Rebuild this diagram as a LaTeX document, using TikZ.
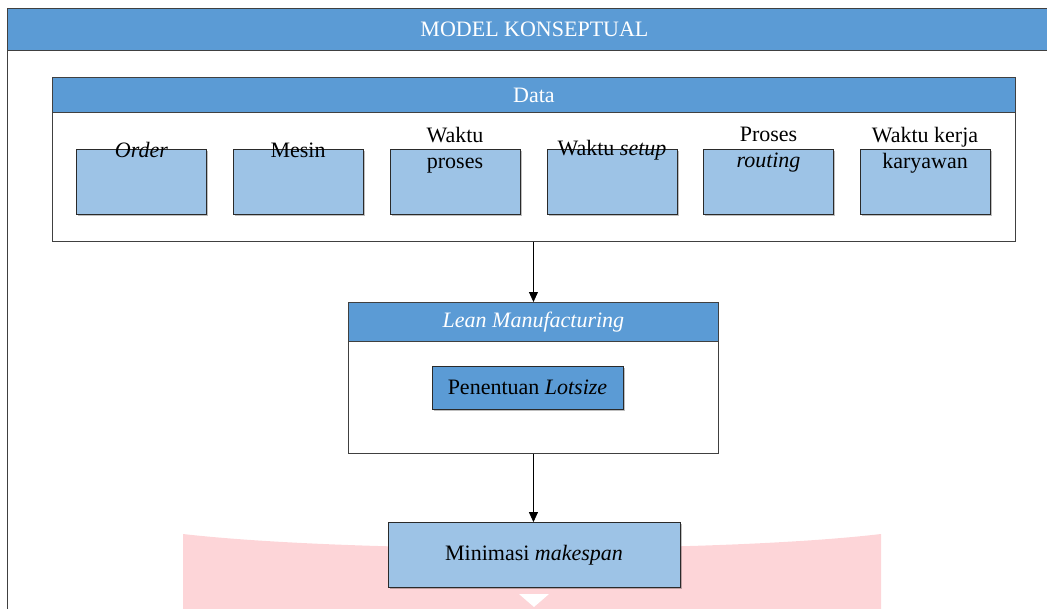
\documentclass[tikz,border=0pt]{standalone}
\usepackage{fontspec}
\setmainfont{Liberation Serif}
\usetikzlibrary{shadows,arrows.meta}
\definecolor{hdrblue}{HTML}{5B9BD5}
\definecolor{itemblue}{HTML}{9DC3E6}
\definecolor{bordc}{HTML}{404040}
\definecolor{itembord}{HTML}{2A2A2A}
\definecolor{wmpink}{HTML}{FDD5D8}
\tikzset{
  txt/.style={font=\fontsize{22}{26}\selectfont},
  hdr/.style={txt, draw=bordc, line width=0.9pt, fill=hdrblue, text=white, inner sep=0pt, anchor=north west},
  bodybox/.style={draw=bordc, line width=0.9pt, fill=white, inner sep=0pt, anchor=north west},
  itembox/.style={draw=itembord, line width=0.8pt, fill=itemblue, inner sep=0pt,
    minimum width=130pt, minimum height=65pt,
    drop shadow={shadow xshift=1.5pt, shadow yshift=-1.5pt, opacity=0.25, fill=black}},
  lbl/.style={txt, align=center, inner sep=0pt},
  arr/.style={draw=black, line width=0.8pt, -{Triangle[length=10pt,width=9pt]}}
}
\begin{document}
\begin{tikzpicture}[x=1pt,y=-1pt]
\useasboundingbox (0,0) rectangle (1047,608);
\clip (0,0) rectangle (1047,608);
% outer frame
\node[draw=bordc, line width=0.9pt, anchor=north west, minimum width=1054pt, minimum height=640pt, inner sep=0pt] (frame) at (7,8) {};
% watermark
\fill[wmpink] (183,534) .. controls (350,553) and (720,553) .. (881,534) -- (881,620) -- (183,620) -- cycle;
\fill[white] (519,594) -- (549,594) -- (534,607) -- cycle;
% title
\node[hdr, minimum width=1054pt, minimum height=42pt] (title) at (7,8) {MODEL KONSEPTUAL};
% data block
\node[bodybox, minimum width=963pt, minimum height=164pt] (data) at (52,77) {};
\node[hdr, minimum width=963pt, minimum height=35pt] (datah) at (52,77) {Data};
\node[itembox] (i1) at (141.5,181.5) {};
\node[itembox] (i2) at (298,181.5) {};
\node[itembox] (i3) at (455,181.5) {};
\node[itembox] (i4) at (612,181.5) {};
\node[itembox] (i5) at (768.5,181.5) {};
\node[itembox] (i6) at (925,181.5) {};
\node[lbl] (l1) at (141.5,150) {\textit{Order}};
\node[lbl] (l2) at (298,150) {Mesin};
\node[lbl] (l3) at (455,150) {Waktu\\proses};
\node[lbl] (l4) at (612,150) {Waktu \textit{setup}};
\node[lbl] (l5) at (768.5,150) {Proses\\\textit{routing}};
\node[lbl] (l6) at (925,150) {Waktu kerja\\karyawan};
% lean block
\node[bodybox, minimum width=370pt, minimum height=151pt] (lean) at (348,302) {};
\node[hdr, minimum width=370pt, minimum height=39pt] (leanh) at (348,302) {\textit{Lean Manufacturing}};
\node[txt, draw=itembord, line width=0.8pt, fill=hdrblue, inner sep=0pt, minimum width=191pt, minimum height=43pt,
  drop shadow={shadow xshift=1.5pt, shadow yshift=-1.5pt, opacity=0.25, fill=black}] (lot) at (527.5,387.5) {Penentuan \textit{Lotsize}};
% result
\node[txt, draw=itembord, line width=0.8pt, fill=itemblue, inner sep=0pt, minimum width=292pt, minimum height=65pt,
  drop shadow={shadow xshift=1.5pt, shadow yshift=-1.5pt, opacity=0.25, fill=black}] (mini) at (534,555) {Minimasi \textit{makespan}};
% arrows
\draw[arr] (lean.north |- data.south) -- (leanh.north);
\draw[arr] (lean.south) -- (lean.south |- mini.north);
\end{tikzpicture}
\end{document}
